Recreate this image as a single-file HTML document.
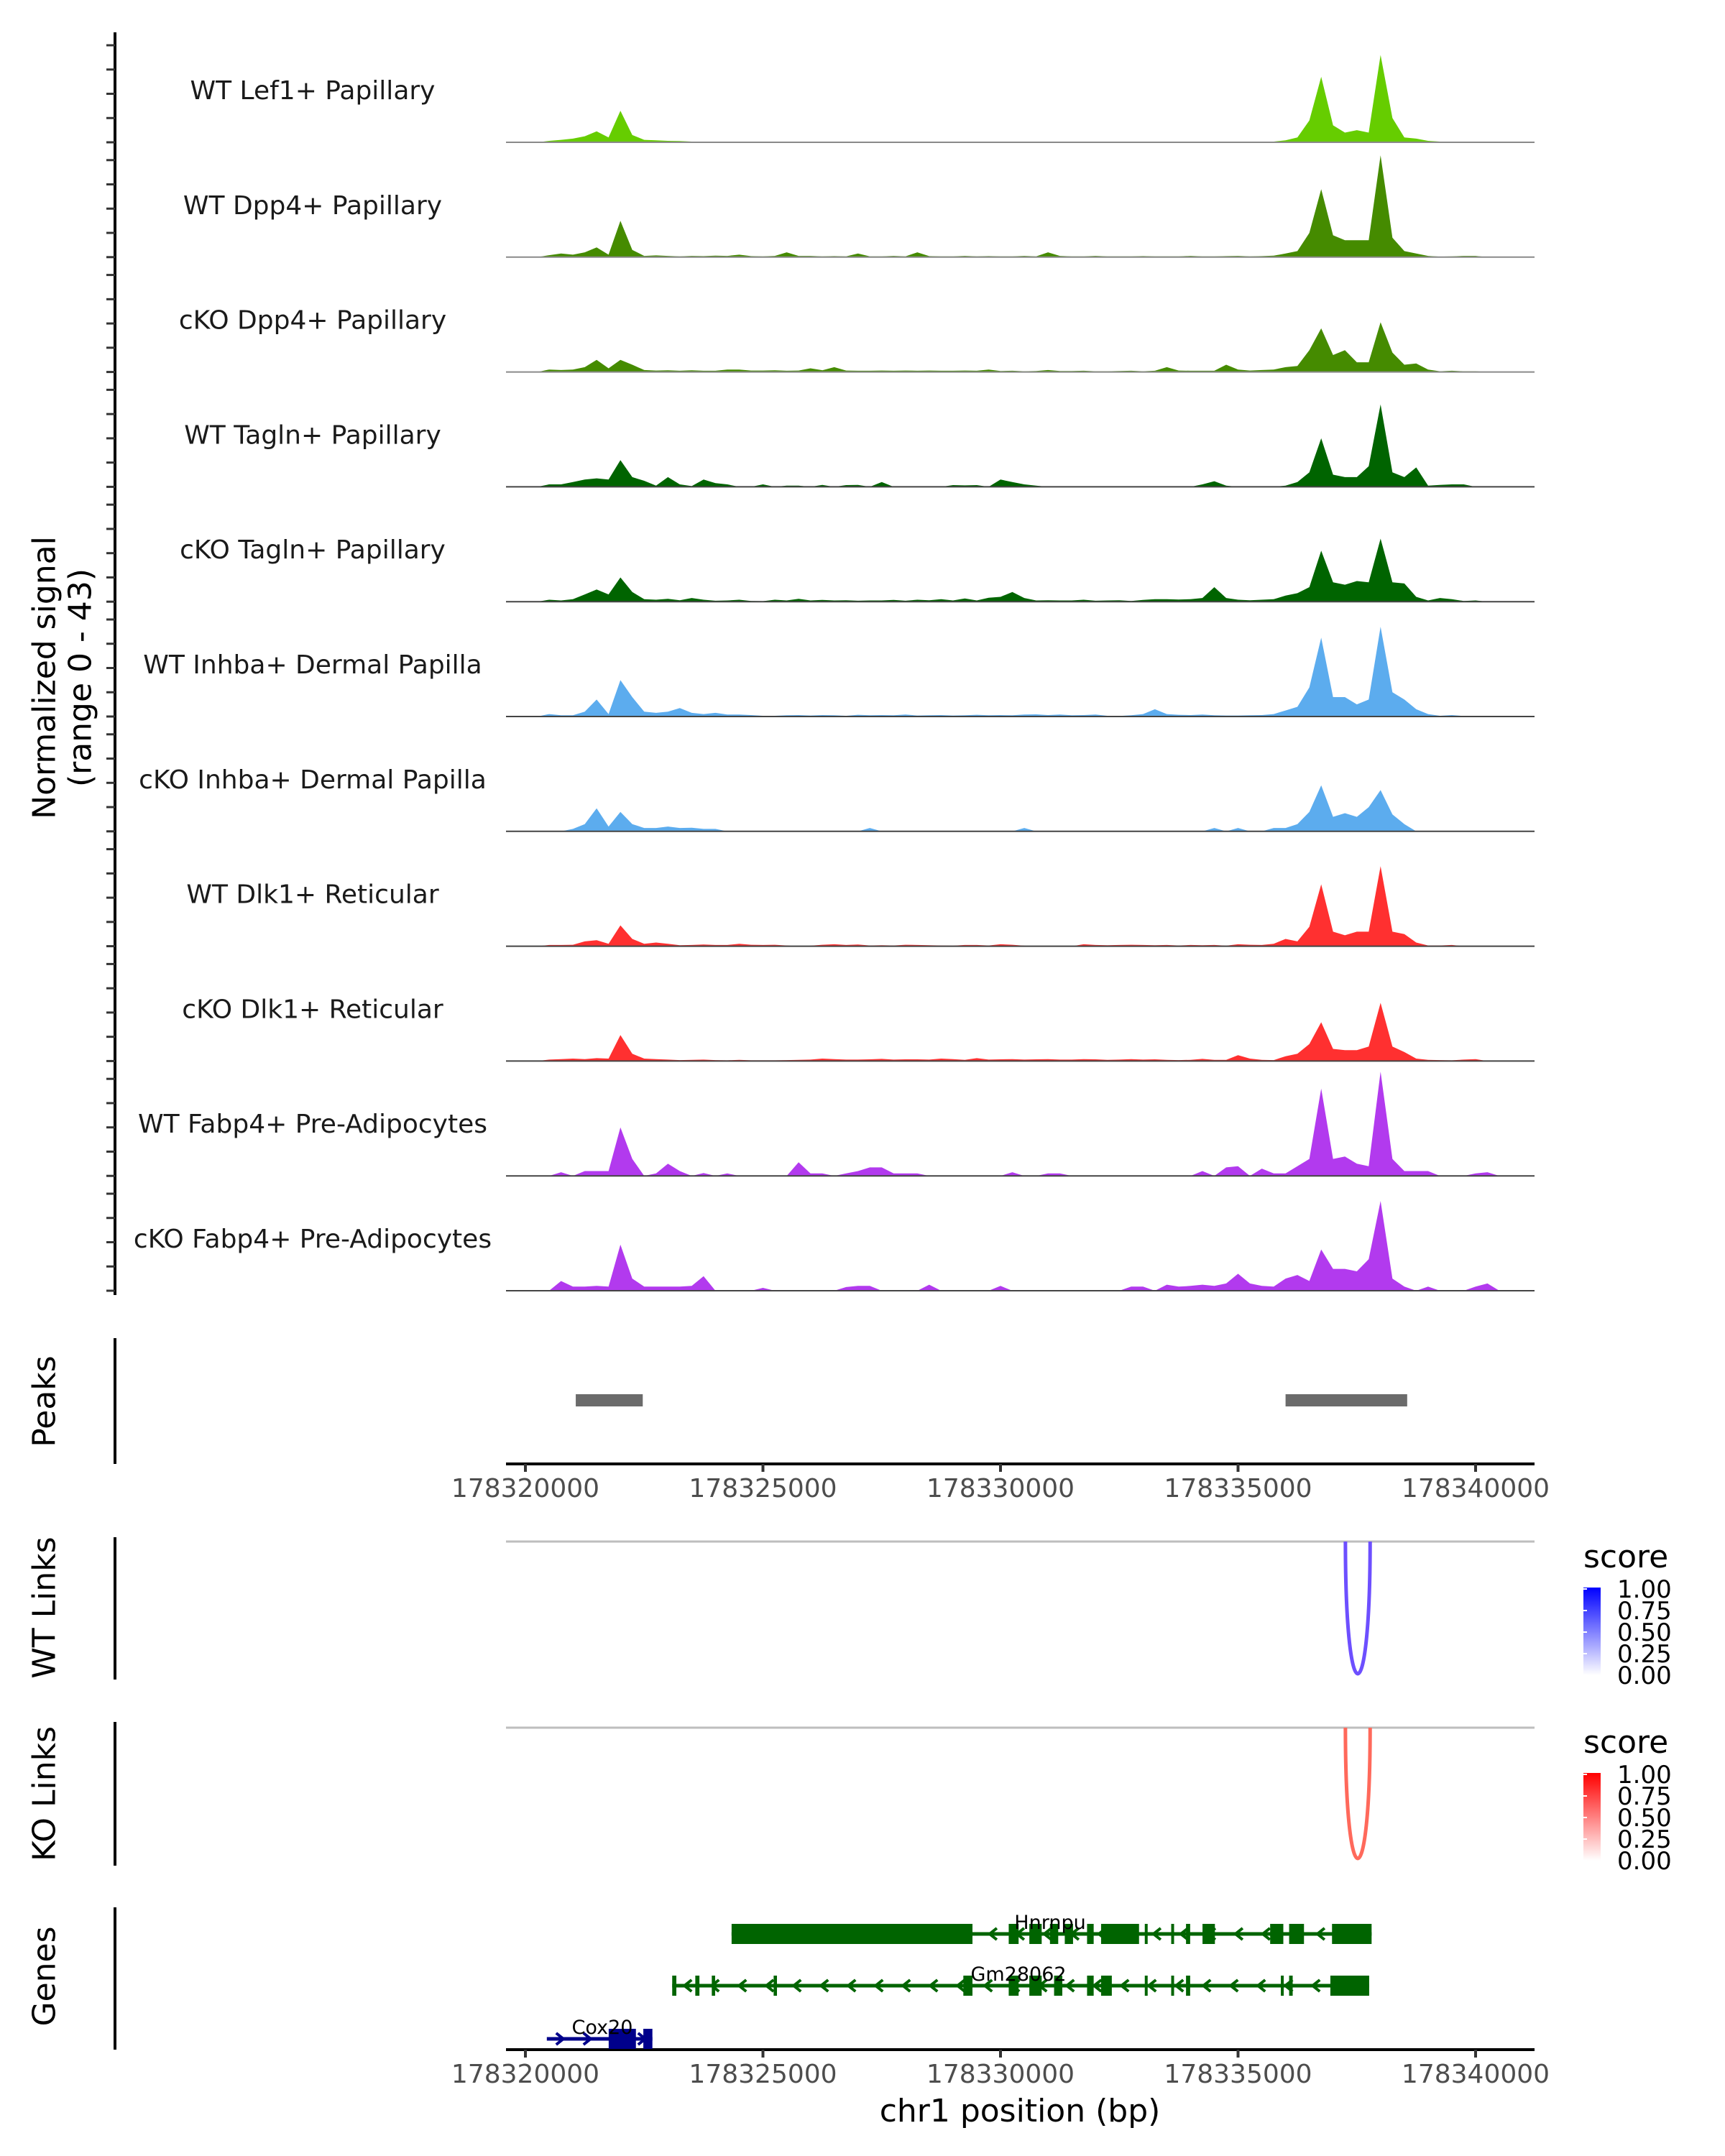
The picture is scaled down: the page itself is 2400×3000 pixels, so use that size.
<!DOCTYPE html>
<html><head><meta charset="utf-8"><style>
html,body{margin:0;padding:0;background:#fff}
svg{display:block;font-family:"DejaVu Sans","Liberation Sans",sans-serif}
</style></head><body>
<svg id="fig" xmlns="http://www.w3.org/2000/svg" width="2400" height="3000" viewBox="0 0 2400 3000">
<rect x="0" y="0" width="2400" height="3000" fill="#fff"/>
<g id="tracks"></g>
<g id="axes"></g>
<g id="peaks"></g>
<g id="links"></g>
<g id="genes"></g>
<text transform="translate(62,943) rotate(-90)" text-anchor="middle" dominant-baseline="central" font-size="44" fill="#000">Normalized signal</text>
<text transform="translate(112,943) rotate(-90)" text-anchor="middle" dominant-baseline="central" font-size="44" fill="#000">(range 0 - 43)</text>
<text transform="translate(62,1950) rotate(-90)" text-anchor="middle" dominant-baseline="central" font-size="44">Peaks</text>
<text transform="translate(62,2237) rotate(-90)" text-anchor="middle" dominant-baseline="central" font-size="44">WT Links</text>
<text transform="translate(62,2496) rotate(-90)" text-anchor="middle" dominant-baseline="central" font-size="44">KO Links</text>
<text transform="translate(62,2750) rotate(-90)" text-anchor="middle" dominant-baseline="central" font-size="44">Genes</text>
<text x="1419" y="2952" text-anchor="middle" font-size="44">chr1 position (bp)</text>
<defs>
<linearGradient id="gBlue" x1="0" y1="1" x2="0" y2="0"><stop offset="0" stop-color="#ffffff"/><stop offset="1" stop-color="#0000ff"/></linearGradient>
<linearGradient id="gRed" x1="0" y1="1" x2="0" y2="0"><stop offset="0" stop-color="#ffffff"/><stop offset="1" stop-color="#ff0000"/></linearGradient>
</defs>
<g id="legends"></g>
</svg>
<script>
// ---- data ----
const trackNames = ["WT Lef1+ Papillary","WT Dpp4+ Papillary","cKO Dpp4+ Papillary","WT Tagln+ Papillary","cKO Tagln+ Papillary","WT Inhba+ Dermal Papilla","cKO Inhba+ Dermal Papilla","WT Dlk1+ Reticular","cKO Dlk1+ Reticular","WT Fabp4+ Pre-Adipocytes","cKO Fabp4+ Pre-Adipocytes"];
const trackColors = ["#66cd00","#458b00","#458b00","#006400","#006400","#5cacee","#5cacee","#ff3030","#ff3030","#b23aee","#b23aee"];
const binStart = 178320000;
const binSize = 250;
const sigLef1WT = [0,0,0.6,1,1.5,2.5,4.5,2,13,3, 1,0.8,0.6,0.5,0.3,0.3,0.2,0.2,0.3,0.2, 0.2,0.2,0,0.2,0.3,0.2,0.2,0.3,0.2,0.2, 0.2,0.2,0.3,0.2,0.2,0.2,0,0.2,0.3,0.2, 0.2,0.2,0.3,0.2,0.2,0.2,0.2,0.2,0.2,0.2, 0.2,0.3,0.3,0.2,0.2,0.2,0,0.2,0.2,0.2, 0.2,0.2,0.3,0.3,0.8,2,9,27,7,4, 5,4,36,10,2,1.5,0.6,0.3,0.2,0, 0,0,0];
const sigDpp4WT = [0,0,0.8,1.5,1,2,4,1,15,3, 0.5,0.7,0.5,0.3,0.5,0.4,0.6,0.5,1,0.4, 0.3,0.5,2,0.5,0.5,0.3,0.4,0.3,1.5,0.3, 0.3,0.5,0.3,2,0.4,0.3,0.3,0.5,0.3,0.4, 0.3,0.3,0.5,0.3,2,0.5,0.3,0.3,0.5,0.3, 0.3,0.3,0.4,0.3,0.3,0.3,0.5,0.3,0.3,0.4, 0.5,0.3,0.4,0.6,1.5,2.5,10,28,9,7, 7,7,42,8,2.5,1.5,0.5,0.2,0.3,0.5, 0.5,0,0];
const sigDpp4KO = [0,0,1,0.8,1,2,5,1.5,5,3, 0.8,0.6,0.7,0.5,0.7,0.5,0.5,1,1,0.6, 0.6,0.7,0.5,0.6,1.5,0.7,2,0.6,0.5,0.5, 0.6,0.5,0.6,0.5,0.6,0.5,0.5,0.6,0.5,1, 0.4,0.5,0.3,0.4,0.8,0.4,0.4,0.5,0.3,0.3, 0.4,0.5,0.3,0.5,2,0.6,0.5,0.5,0.5,3, 1,0.6,0.8,1,2,2.5,9,18,7,9, 4,4,20.5,8,3,3.5,1,0.3,0.5,0.3, 0.3,0,0];
const sigTaglnWT = [0,0,1,1,2,3,3.5,3,11,4, 2.5,0.5,4,1,0.3,3,1.5,1,0,0, 1,0,0.5,0.5,0,0.8,0,0.7,0.8,0, 2,0,0,0,0,0,0.7,0.6,0.7,0, 3,2,1,0.5,0,0,0,0,0,0, 0,0,0,0,0,0,0,1,2.3,0.5, 0,0,0,0,0.5,2,6,20,5,4, 4,8.5,34,6,4,8,0.5,0.8,1,1, 0,0,0];
const sigTaglnKO = [0,0,0.8,0.5,1,3,5,3,10,4, 1,0.8,1.2,0.6,1.5,0.8,0.4,0.5,0.8,0.3, 0.2,0.8,0.5,1.2,0.5,0.7,0.5,0.6,0.4,0.5, 0.5,0.7,0.4,0.8,0.6,1,0.5,1.3,0.5,1.6, 2,4,1.5,0.5,0.6,0.5,0.5,0.8,0.4,0.5, 0.6,0.3,0.7,1,1,0.9,1,1.5,6,1.5, 0.8,0.6,0.8,1,2.5,3.5,6,21,8,7, 8.5,8,26,8,7.5,2,0.5,1.5,1,0.3, 0.5,0,0];
const sigInhbaWT = [0,0,1,0.5,0.5,2,7,1,15,8, 2,1.5,2,3.5,1.5,1,1.5,0.8,0.8,0.6, 0.3,0.3,0.5,0.6,0.4,0.6,0.5,0.3,0.7,0.5, 0.6,0.5,0.8,0.4,0.5,0.6,0.4,0.5,0.7,0.5, 0.6,0.5,0.8,0.9,0.6,0.8,0.5,0.6,0.8,0.3, 0.2,0.5,1,3,1,0.7,0.6,0.8,0.5,0.4, 0.4,0.5,0.6,1,2.5,4,12,32.5,8,8, 5,7,37,10,7,3,1,0.3,0.6,0.2, 0,0,0];
const sigInhbaKO = [0,0,0,0,1,3,9.5,2,8,3, 1.4,1.4,2,1.4,1.5,1,1,0,0,0, 0,0,0,0,0,0,0,0,0,1.4, 0,0,0,0,0,0,0,0,0,0, 0,0,1.4,0,0,0,0,0,0,0, 0,0,0,0,0,0,0,0,1.4,0, 1.4,0,0,1.4,1.4,3,8,19,6,7.5, 6,10,17,7,3,0,0,0,0,0, 0,0,0];
const sigDlk1WT = [0,0,0.5,0.5,0.6,2,2.5,1,8.6,3, 1,1.5,1,0.4,0.5,0.7,0.5,0.5,1,0.6, 0.5,0.6,0.3,0,0.2,0.6,0.8,0.5,0.7,0.3, 0.4,0.3,0.6,0.5,0.4,0.3,0.2,0.5,0.5,0.3, 0.8,0.6,0.2,0,0,0,0,0.8,0.5,0.4, 0.5,0.6,0.5,0.4,0.5,0.3,0.5,0.4,0.5,0.2, 0.8,0.6,0.5,1,3,2,8,25.5,6,4.5, 6,6,33,6,5,1.5,0.3,0.3,0.5,0, 0,0,0];
const sigDlk1KO = [0,0,0.6,0.8,1,0.8,1.2,1,10.7,3, 1,0.8,0.6,0.4,0.5,0.6,0.4,0.3,0.5,0.3, 0.3,0.3,0.4,0.5,0.6,1,0.8,0.6,0.6,0.7, 0.9,0.6,0.7,0.7,0.6,1,0.8,0.5,1.2,0.6, 0.7,0.8,0.6,0.7,0.8,0.6,0.6,0.8,0.7,0.5, 0.6,0.8,0.6,0.7,0.5,0.4,0.5,0.9,0.5,0.5, 2.4,1,0.5,0.4,2,3,7,16,5,4.5, 4.5,6,24,6,3.7,1,0.5,0.4,0.3,0.6, 0.8,0,0];
const sigFabp4WT = [0,0,0,1.5,0,2,2,2,20,7, 0,1,5,2,0,1.2,0,1,0,0, 0,0,0,5.6,1,1,0,1,2,3.5, 3.5,1,1,1,0,0,0,0,0,0, 0,1.5,0,0,1,1,0,0,0,0, 0,0,0,0,0,0,0,2,0,3.5, 4,0,3,1,1,4,7,36,7,8, 5,4,43,7,2,2,2,0,0,0, 1,1.5,0];
const sigFabp4KO = [0,0,0,4,1.7,1.7,2,1.7,19,5, 1.7,1.7,1.7,1.7,2,6,0,0,0,0, 1.2,0,0,0,0,0,0,1.5,2,2, 0,0,0,0,2.5,0,0,0,0,0, 2,0,0,0,0,0,0,0,0,0, 0,1.7,1.7,0,2.5,1.7,2,2.5,2,3, 7,3,2,1.7,5,6.5,4,17,9,9, 8,13,37,5,1.7,0,1.7,0,0,0, 1.7,3,0];
const trackSignals = [sigLef1WT,sigDpp4WT,sigDpp4KO,sigTaglnWT,sigTaglnKO,sigInhbaWT,sigInhbaKO,sigDlk1WT,sigDlk1KO,sigFabp4WT,sigFabp4KO];
const xTicks = [178320000,178325000,178330000,178335000,178340000];
const peakStarts = [178321060,178336000];
const peakEnds = [178322470,178338560];
const wtLinkStart = 178337260, wtLinkEnd = 178337780, wtLinkScore = 0.75;
const koLinkStart = 178337260, koLinkEnd = 178337780, koLinkScore = 0.7;
const legendTicks = ["1.00","0.75","0.50","0.25","0.00"];
const geneNames = ["Hnrnpu","Gm28062","Cox20"];
const geneStarts = [178324340,178323090,178320451];
const geneEnds = [178337811,178337760,178322673];
const geneStrands = ["-","-","+"];
const hnrnpuExons = [[178324340,178329410],[178330173,178330381],[178330607,178330867],[178331041,178331215],[178331353,178331527],[178331822,178331961],[178332117,178332916],[178333037,178333089],[178333593,178333645],[178333905,178333992],[178334252,178334513],[178335676,178335953],[178336075,178336388],[178336978,178337811]];
const gm28062Exons = [[178323090,178323177],[178323576,178323663],[178323923,178323993],[178325225,178325295],[178329218,178329410],[178330173,178330381],[178330607,178330867],[178331128,178331301],[178331822,178331961],[178332117,178332343],[178333037,178333089],[178333593,178333645],[178333905,178333992],[178335901,178335953],[178336075,178336150],[178336943,178337760]];
const cox20Exons = [[178321753,178322326],[178322482,178322673]];
const geneExons = [hnrnpuExons,gm28062Exons,cox20Exons];

// ---- scales ----
const PX0 = 704, PX1 = 2135;
function xs(bp){ return 731 + (bp - 178320000) * 0.0661; }
const baseline0 = 198, trackStep = 159.8, pxPerUnit = 3.375;
function ys(track, v){ return baseline0 + track*trackStep - v*pxPerUnit; }
const NS = "http://www.w3.org/2000/svg";
function mk(tag, attrs, parent){ const e = document.createElementNS(NS, tag); for (const k in attrs) e.setAttribute(k, attrs[k]); parent.appendChild(e); return e; }

// ---- signal tracks ----
const gT = document.getElementById('tracks');
trackSignals.forEach((vals, t) => {
  const base = ys(t, 0);
  let d = `M${xs(binStart).toFixed(1)},${base}`;
  vals.forEach((v, k) => { d += ` L${xs(binStart + k*binSize).toFixed(1)},${ys(t, v).toFixed(1)}`; });
  d += ` L${xs(binStart + (vals.length-1)*binSize).toFixed(1)},${base} Z`;
  const area = mk('path', {d: d, fill: trackColors[t], stroke: 'none'}, gT);
  
  
  const bl = mk('line', {x1: PX0, x2: PX1, y1: base, y2: base, stroke: t < 3 ? '#8a8a8a' : '#444', 'stroke-width': 2}, gT);
  
  
  const lab = mk('text', {x: 435, y: base - 60, 'text-anchor': 'middle', 'font-size': 36, fill: '#1a1a1a'}, gT);
  lab.textContent = trackNames[t];
  
  
});

// ---- axes ----
const gA = document.getElementById('axes');
function vline(y1, y2, name){ const l = mk('line', {x1: 160, x2: 160, y1: y1, y2: y2, stroke: '#000', 'stroke-width': 4}, gA);   }
vline(45, 1802, 'signal-y-axis');
vline(1862, 2037, 'peaks-y-axis');
vline(2139, 2337, 'wt-links-y-axis');
vline(2396, 2596, 'ko-links-y-axis');
vline(2654, 2852, 'genes-y-axis');
for (let t = 0; t < trackSignals.length; t++) {
  for (let j = 0; j <= 4; j++) {
    const y = ys(t, j*10);
    const tk = mk('line', {x1: 148, x2: 160, y1: y, y2: y, stroke: '#333', 'stroke-width': 3}, gA);
    
    
  }
}
function xAxis(y, name){
  const l = mk('line', {x1: PX0, x2: PX1, y1: y, y2: y, stroke: '#000', 'stroke-width': 4}, gA);
  
  
  xTicks.forEach(v => {
    const tk = mk('line', {x1: xs(v), x2: xs(v), y1: y, y2: y + 11, stroke: '#333', 'stroke-width': 4}, gA);
    
    
    const tl = mk('text', {x: xs(v), y: y + 46, 'text-anchor': 'middle', 'font-size': 36, fill: '#4d4d4d'}, gA);
    tl.textContent = String(v);
    
    
  });
}
xAxis(2037, 'peaks-x-axis');
xAxis(2852, 'genes-x-axis');

// ---- peaks ----
const gP = document.getElementById('peaks');
peakStarts.forEach((s, i) => {
  const r = mk('rect', {x: xs(s), y: 1940, width: xs(peakEnds[i]) - xs(s), height: 17, fill: '#6b6b6b'}, gP);
  
  
});

// ---- links ----
const gL = document.getElementById('links');
function linkTrack(top, bottom, s, e, color, name){
  const g = mk('line', {x1: PX0, x2: PX1, y1: top, y2: top, stroke: '#bebebe', 'stroke-width': 3}, gL);
  
  
  const x1 = xs(s), x2 = xs(e), c = top + (bottom - top)/0.75;
  const p = mk('path', {d: `M${x1},${top} C${x1},${c} ${x2},${c} ${x2},${top}`, fill: 'none', stroke: color, 'stroke-width': 5}, gL);
  
  
}
function blend(score, r, g, b){ const m = v => Math.round(255 + (v - 255)*score); return `rgb(${m(r)},${m(g)},${m(b)})`; }
linkTrack(2145, 2329, wtLinkStart, wtLinkEnd, blend(wtLinkScore, 60, 20, 255), 'wt-link');
linkTrack(2404, 2586, koLinkStart, koLinkEnd, blend(koLinkScore, 255, 40, 20), 'ko-link');

// ---- legends ----
const gLe = document.getElementById('legends');
function legend(top, grad, name){
  const t = mk('text', {x: 2203, y: top - 28, 'font-size': 44, fill: '#000'}, gLe);
  t.textContent = 'score';
  
  
  const r = mk('rect', {x: 2203, y: top, width: 24, height: 122, fill: `url(#${grad})`}, gLe);
  
  
  legendTicks.forEach((lab, i) => {
    const y = top + 2 + i*30;
    const tk = mk('line', {x1: 2203, x2: 2208, y1: y, y2: y, stroke: '#fff', 'stroke-width': 2}, gLe);
    
    
    const tl = mk('text', {x: 2250, y: y + 12, 'font-size': 34, fill: '#000'}, gLe);
    tl.textContent = lab;
    
    
  });
}
legend(2209, 'gBlue', 'wt-legend');
legend(2467, 'gRed', 'ko-legend');

// ---- genes ----
const gG = document.getElementById('genes');
const geneRowY = [2691, 2763, 2837];
const geneColors = ['#006400', '#006400', '#00008b'];
const labelX = [1461, 1417, 838];
geneNames.forEach((nm, i) => {
  const y = geneRowY[i], col = geneColors[i];
  const x1 = xs(geneStarts[i]), x2 = xs(geneEnds[i]);
  const ln = mk('line', {x1: x1, x2: x2, y1: y, y2: y, stroke: col, 'stroke-width': 5}, gG);
  
  
  for (let x = x1 + 20; x < x2 - 10; x += 38) {
    const dir = geneStrands[i] === '-' ? 1 : -1;
    const ch = mk('polyline', {points: `${x + dir*7},${y - 8} ${x - dir*3},${y} ${x + dir*7},${y + 8}`, fill: 'none', stroke: col, 'stroke-width': 4}, gG);
    
    
  }
  geneExons[i].forEach(ex => {
    const r = mk('rect', {x: xs(ex[0]), y: y - 14, width: Math.max(4, xs(ex[1]) - xs(ex[0])), height: 28, fill: col}, gG);
    
    
  });
  const t = mk('text', {x: labelX[i], y: y - 7, 'text-anchor': 'middle', 'font-size': 27, fill: '#000'}, gG);
  t.textContent = nm;
  
  
});
</script>
</body></html>
